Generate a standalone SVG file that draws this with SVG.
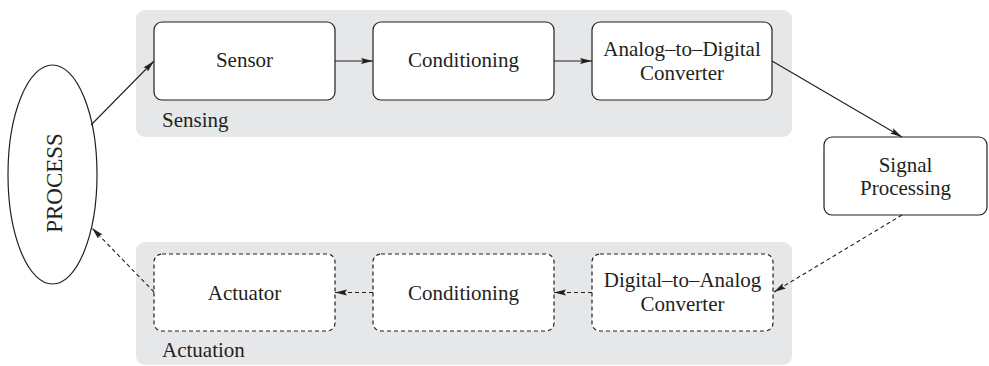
<svg xmlns="http://www.w3.org/2000/svg" width="989" height="366" viewBox="0 0 989 366">
<style>
.grp{fill:#e6e7e8;stroke:none}
.box{fill:#fff;stroke:#231f20;stroke-width:1.2}
.dash{stroke-dasharray:4 3}
.t{font-family:'Liberation Serif','Times New Roman','DejaVu Serif',serif;font-size:21px;fill:#231f20;text-anchor:middle}
.gl{font-family:'Liberation Serif','Times New Roman','DejaVu Serif',serif;font-size:21px;fill:#231f20}
.c{stroke:#231f20;stroke-width:1.1;fill:none}
</style>
<defs>
<marker id="ah" viewBox="0 0 12 8" refX="12" refY="4" markerWidth="12" markerHeight="8" markerUnits="userSpaceOnUse" orient="auto">
<path d="M0,1 L12,4 L0,7 L2,4 Z" fill="#231f20"/>
</marker>
</defs>
<g id="sensing-group">
<rect class="grp" x="136" y="10" width="656" height="127" rx="9"/>
<text class="gl" x="162" y="127">Sensing</text>
</g>
<g id="actuation-group">
<rect class="grp" x="136" y="242" width="656" height="123" rx="9"/>
<text class="gl" x="162" y="357">Actuation</text>
</g>
<g id="process">
<ellipse class="box" cx="52.5" cy="174.5" rx="44.5" ry="109.5"/>
<text class="t" style="font-size:23px" transform="translate(62,183) rotate(-90)">PROCESS</text>
</g>
<g id="sensor">
<rect class="box" x="154" y="22" width="181" height="78" rx="8"/>
<text class="t" x="244.5" y="67">Sensor</text>
</g>
<g id="conditioning-in">
<rect class="box" x="373" y="22" width="181" height="78" rx="8"/>
<text class="t" x="463.5" y="67">Conditioning</text>
</g>
<g id="adc">
<rect class="box" x="592" y="22" width="180" height="78" rx="8"/>
<text class="t" x="682" y="56">Analog–to–Digital</text>
<text class="t" x="682" y="80">Converter</text>
</g>
<g id="signal-processing">
<rect class="box" x="824" y="137" width="163" height="78" rx="8"/>
<text class="t" x="905.5" y="172">Signal</text>
<text class="t" x="905.5" y="195">Processing</text>
</g>
<g id="dac">
<rect class="box dash" x="592" y="254" width="181" height="77" rx="8"/>
<text class="t" x="682.5" y="287">Digital–to–Analog</text>
<text class="t" x="682.5" y="311">Converter</text>
</g>
<g id="conditioning-out">
<rect class="box dash" x="373" y="254" width="181" height="77" rx="8"/>
<text class="t" x="463.5" y="300">Conditioning</text>
</g>
<g id="actuator">
<rect class="box dash" x="154" y="254" width="181" height="77" rx="8"/>
<text class="t" x="244.5" y="300">Actuator</text>
</g>
<g id="connectors">
<line class="c" x1="91" y1="125" x2="154" y2="61" marker-end="url(#ah)"/>
<line class="c" x1="335" y1="61" x2="373" y2="61" marker-end="url(#ah)"/>
<line class="c" x1="554" y1="61" x2="592" y2="61" marker-end="url(#ah)"/>
<line class="c" x1="772" y1="61" x2="902" y2="137" marker-end="url(#ah)"/>
<line class="c dash" x1="902" y1="215" x2="774" y2="292" marker-end="url(#ah)"/>
<line class="c dash" x1="592" y1="292.5" x2="554" y2="292.5" marker-end="url(#ah)"/>
<line class="c dash" x1="373" y1="292.5" x2="335" y2="292.5" marker-end="url(#ah)"/>
<line class="c dash" x1="154" y1="292" x2="92" y2="228" marker-end="url(#ah)"/>
</g>
</svg>
